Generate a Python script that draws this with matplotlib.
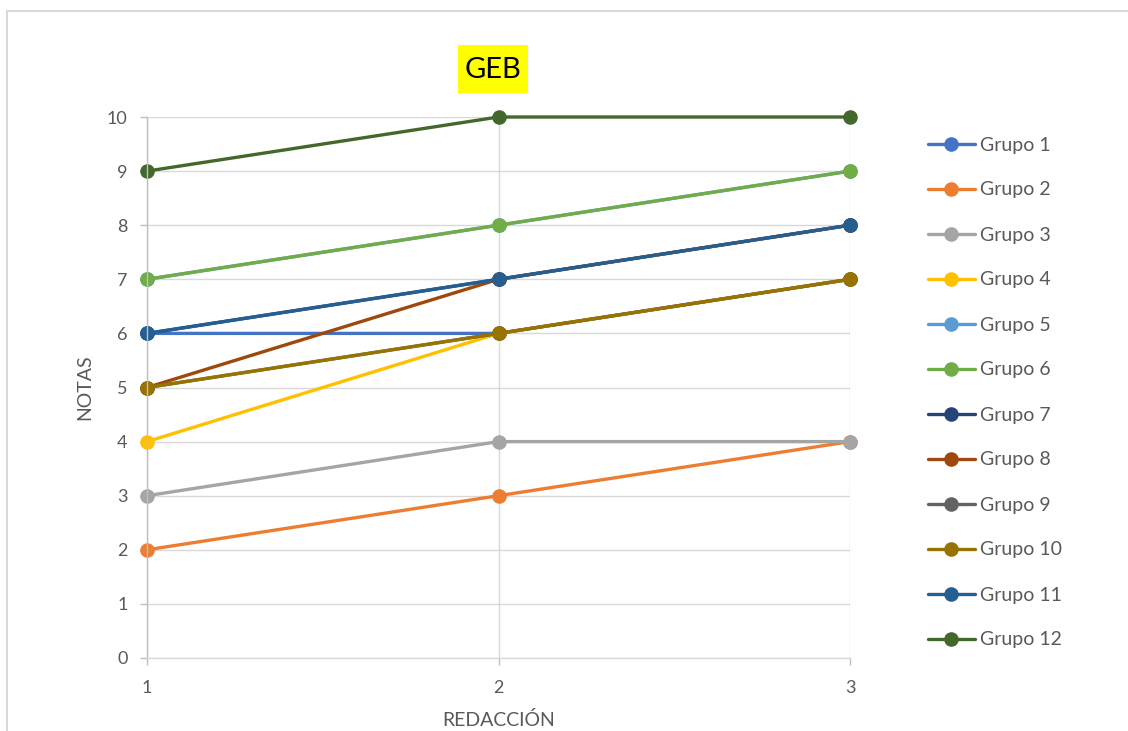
import matplotlib
matplotlib.use("Agg")
import matplotlib.pyplot as plt
from matplotlib.patches import Rectangle

plt.rcParams['font.family'] = ['Lato', 'DejaVu Sans']

# Redacción attempts and grades per group
redaccion = [1, 2, 3]
grupos = [f"Grupo {i}" for i in range(1, 13)]
notas_g1 = [6, 6, 7]
notas_g2 = [2, 3, 4]
notas_g3 = [3, 4, 4]
notas_g4 = [4, 6, 7]
notas_g5 = [7, 8, 9]
notas_g6 = [7, 8, 9]
notas_g7 = [6, 7, 8]
notas_g8 = [5, 7, 8]
notas_g9 = [5, 6, 7]
notas_g10 = [5, 6, 7]
notas_g11 = [6, 7, 8]
notas_g12 = [9, 10, 10]
notas = [notas_g1, notas_g2, notas_g3, notas_g4, notas_g5, notas_g6,
         notas_g7, notas_g8, notas_g9, notas_g10, notas_g11, notas_g12]
y_ticks = list(range(0, 11))

colores = ['#4472C4', '#ED7D31', '#A5A5A5', '#FFC000', '#5B9BD5', '#70AD47',
           '#264478', '#9E480E', '#636363', '#997300', '#255E91', '#43682B']

W, H = 1128, 731
fig = plt.figure(figsize=(W / 100, H / 100), dpi=100)
ax = fig.add_axes([147 / W, 1 - 658 / H, (850 - 147) / W, (658 - 117) / H])

for nombre, serie, color in zip(grupos, notas, colores):
    ax.plot(redaccion, serie, color=color, lw=2.4, marker='o', ms=10.5,
            markeredgewidth=0, label=nombre, solid_capstyle='round', clip_on=False)

ax.set_xlim(1, 3)
ax.set_ylim(0, 10)
ax.set_xticks(redaccion)
ax.set_yticks(y_ticks)
ax.grid(True, color='#d9d9d9', lw=1.0)
ax.set_axisbelow(True)
for s in ['top', 'right']:
    ax.spines[s].set_visible(False)
ax.spines['left'].set_color('#bfbfbf')
ax.spines['bottom'].set_color('#d9d9d9')
ax.spines['left'].set_linewidth(1.0)
ax.spines['bottom'].set_linewidth(1.0)
ax.tick_params(axis='both', colors='#bfbfbf', labelcolor='#595959', labelsize=13,
               length=5, width=1.0)
ax.tick_params(axis='x', pad=11)
ax.tick_params(axis='y', pad=9)

ax.set_ylabel('NOTAS', fontsize=14, color='#595959')
ax.yaxis.set_label_coords((85 - 147) / 703, 0.5)
ax.yaxis.label.set_va('center')
ax.set_xlabel('REDACCIÓN', fontsize=14, color='#595959')
ax.xaxis.set_label_coords((499 - 147) / 703, -(720 - 658) / 541)
ax.xaxis.label.set_va('center')

# Title with yellow highlight
fig.patches.append(Rectangle((458 / W, 1 - 93 / H), 70 / W, 48 / H,
                             transform=fig.transFigure, facecolor='#FFFF00',
                             edgecolor='none', zorder=0))
fig.text(493 / W, 1 - 70 / H, 'GEB', fontsize=21, color='black',
         ha='center', va='center')

# Outer chart border (left and top edges visible)
fig.patches.append(Rectangle((7 / W, 1 - 11 / H - 2), 2, 2,
                             transform=fig.transFigure, facecolor='none',
                             edgecolor='#d9d9d9', lw=1.5, zorder=0))

ax.legend(loc='center left', bbox_to_anchor=(928 / W, 1 - 392.5 / H),
          bbox_transform=fig.transFigure, frameon=False, fontsize=14,
          labelcolor='#595959', handlelength=2.4, handletextpad=0.3,
          labelspacing=1.44, borderpad=0, borderaxespad=0)

fig.savefig('out.png', dpi=100, facecolor='white')
